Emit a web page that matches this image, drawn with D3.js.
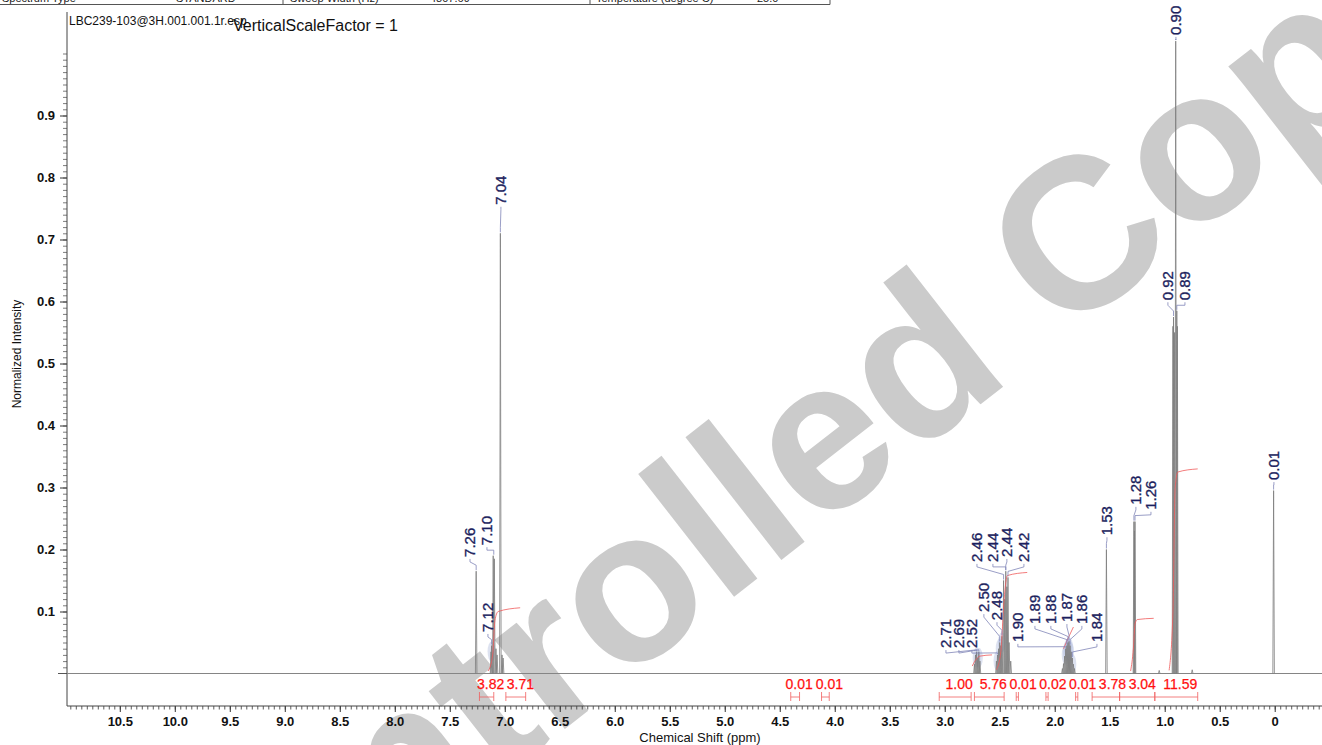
<!DOCTYPE html>
<html>
<head>
<meta charset="utf-8">
<script src="https://cdn.jsdelivr.net/npm/d3@7"></script>
<style>
  body { margin: 0; background: #fff; }
  svg text { font-family: "Liberation Sans", Arial, sans-serif; }
</style>
</head>
<body>
<div id="chart"></div>
<script>
// ---- data ----
// peak lines: [ppm, normalized intensity]
var peaks = [
  [7.26, 0.165],
  [7.125, 0.035], [7.12, 0.045], [7.105, 0.19], [7.095, 0.185], [7.08, 0.04], [7.07, 0.03],
  [7.04, 0.71], [7.025, 0.03], [7.015, 0.025],
  [2.73, 0.015], [2.72, 0.03], [2.71, 0.035], [2.70, 0.025], [2.69, 0.035], [2.68, 0.02],
  [2.53, 0.02], [2.52, 0.03], [2.51, 0.04], [2.50, 0.05], [2.49, 0.045], [2.48, 0.06],
  [2.465, 0.15], [2.455, 0.12], [2.445, 0.165], [2.435, 0.14], [2.425, 0.155], [2.415, 0.05], [2.40, 0.02],
  [1.93, 0.008], [1.92, 0.016], [1.91, 0.028], [1.90, 0.04], [1.89, 0.045], [1.88, 0.05],
  [1.87, 0.052], [1.86, 0.045], [1.85, 0.035], [1.84, 0.025], [1.83, 0.015], [1.82, 0.008],
  [1.53, 0.2],
  [1.28, 0.245], [1.275, 0.23], [1.27, 0.245],
  [1.05, 0.005],
  [0.925, 0.56], [0.92, 0.575], [0.91, 0.55], [0.90, 1.02], [0.89, 0.585], [0.885, 0.56],
  [0.75, 0.006],
  [0.01, 0.295]
];

// peak labels: [text, peak ppm, peak height]
var peakLabels = [
  ["7.26", 7.26, 0.165], ["7.10", 7.10, 0.19], ["7.12", 7.12, 0.045], ["7.04", 7.04, 0.71],
  ["2.71", 2.71, 0.035], ["2.69", 2.69, 0.035], ["2.52", 2.52, 0.03], ["2.50", 2.50, 0.05], ["2.48", 2.48, 0.06],
  ["2.46", 2.465, 0.15], ["2.44", 2.445, 0.165], ["2.44", 2.445, 0.165], ["2.42", 2.425, 0.155],
  ["1.90", 1.90, 0.04], ["1.89", 1.89, 0.045], ["1.88", 1.88, 0.05], ["1.87", 1.87, 0.052], ["1.86", 1.86, 0.045], ["1.84", 1.84, 0.025],
  ["1.53", 1.53, 0.2], ["1.28", 1.28, 0.245], ["1.26", 1.27, 0.245],
  ["0.92", 0.92, 0.575], ["0.90", 0.90, 1.02], ["0.89", 0.89, 0.585], ["0.01", 0.01, 0.295]
];
// where each label sits: [ppm, intensity of the label foot]
var labelSpots = [
  [7.316, 0.188], [7.162, 0.207], [7.153, 0.067], [7.035, 0.756],
  [2.989, 0.041], [2.871, 0.041], [2.753, 0.041], [2.644, 0.099], [2.525, 0.086],
  [2.707, 0.18], [2.562, 0.18], [2.435, 0.188], [2.28, 0.18],
  [2.335, 0.051], [2.18, 0.08], [2.035, 0.08], [1.889, 0.083], [1.753, 0.08], [1.616, 0.051],
  [1.525, 0.223], [1.262, 0.272], [1.125, 0.264],
  [0.971, 0.602], [0.898, 1.03], [0.816, 0.602], [0.007, 0.312]
];

// integrals: [from ppm, to ppm, value]
var integrals = [
  [7.23, 7.10, "3.82"], [6.99, 6.81, "3.71"], [4.40, 4.32, "0.01"], [4.12, 4.05, "0.01"],
  [3.05, 2.76, "1.00"], [2.73, 2.46, "5.76"], [2.35, 2.33, "0.01"], [2.08, 2.06, "0.02"],
  [1.81, 1.79, "0.01"], [1.66, 1.41, "3.78"], [1.41, 1.09, "3.04"], [1.09, 0.70, "11.59"]
];
// integral curves drawn in the plot: [ppm, intensity]
var integralCurves = [
  [[7.15, 0.004], [7.11, 0.03], [7.09, 0.085], [7.06, 0.1], [6.86, 0.106]],
  [[2.75, 0.012], [2.71, 0.024], [2.68, 0.028], [2.57, 0.03]],
  [[2.53, 0.006], [2.49, 0.035], [2.46, 0.12], [2.43, 0.158], [2.25, 0.163]],
  [[1.92, 0.04], [1.87, 0.06], [1.83, 0.075]],
  [[1.31, 0.004], [1.285, 0.04], [1.27, 0.08], [1.25, 0.087], [1.10, 0.089]],
  [[0.96, 0.005], [0.925, 0.1], [0.905, 0.3], [0.88, 0.325], [0.70, 0.33]]
];

var xTickValues = [10.5, 10.0, 9.5, 9.0, 8.5, 8.0, 7.5, 7.0, 6.5, 6.0, 5.5, 5.0, 4.5, 4.0, 3.5, 3.0, 2.5, 2.0, 1.5, 1.0, 0.5, 0];
var xTickLabels = ["10.5", "10.0", "9.5", "9.0", "8.5", "8.0", "7.5", "7.0", "6.5", "6.0", "5.5", "5.0", "4.5", "4.0", "3.5", "3.0", "2.5", "2.0", "1.5", "1.0", "0.5", "0"];
var yTickValues = [0.1, 0.2, 0.3, 0.4, 0.5, 0.6, 0.7, 0.8, 0.9];

// ---- layout ----
var width = 1322, height = 745;
var svg = d3.select("#chart").append("svg")
  .attr("width", width)
  .attr("height", height);

var x = d3.scaleLinear().domain([10.98, -0.43]).range([67, 1322]);
var y = d3.scaleLinear().domain([0, 1]).range([673.5, 53.5]);
var axisY = 706;

// watermark
svg.append("text")
  .attr("transform", "translate(826,525) rotate(-38)")
  .attr("text-anchor", "middle")
  .style("font-size", "215px")
  .style("font-weight", "bold")
  .attr("fill", "#cbcbcb")
  .text("Controlled Copy");

// header table cut at the top
var header = svg.append("g").attr("class", "header");
header.append("line").attr("x1", 0).attr("x2", 830).attr("y1", 4.5).attr("y2", 4.5)
  .attr("stroke", "#555").attr("stroke-width", 1);
[283, 590, 830].forEach(function (xx) {
  header.append("line").attr("x1", xx).attr("x2", xx).attr("y1", 0).attr("y2", 4.5)
    .attr("stroke", "#555");
});
[["Spectrum Type", 2], ["STANDARD", 176], ["Sweep Width (Hz)", 290], ["4807.69", 430],
 ["Temperature (degree C)", 596], ["25.0", 757]].forEach(function (t) {
  header.append("text").attr("x", t[1]).attr("y", 2).style("font-size", "11px")
    .attr("fill", "#222").text(t[0]);
});

svg.append("text").attr("x", 69).attr("y", 25).style("font-size", "12px")
  .attr("fill", "#111").text("LBC239-103@3H.001.001.1r.esp");
svg.append("text").attr("x", 233).attr("y", 31).style("font-size", "16px")
  .attr("fill", "#111").text("VerticalScaleFactor = 1");

// ---- axes ----
// x minor ticks
svg.append("g")
  .attr("transform", "translate(0," + axisY + ")")
  .call(d3.axisBottom(x).tickValues(d3.range(-8, 220).map(function (i) { return i * 0.05; })
      .filter(function (v) { return v <= 10.98 && v >= -0.43; }))
    .tickSize(3.5).tickFormat(""))
  .call(function (g) { g.select(".domain").remove(); })
  .selectAll("line").attr("stroke", "#333").attr("stroke-width", 0.8);

var xAxis = svg.append("g")
  .attr("transform", "translate(0," + axisY + ")")
  .call(d3.axisBottom(x).tickValues(xTickValues).tickSize(6).tickPadding(5)
    .tickFormat(function (d, i) { return xTickLabels[i]; }));
xAxis.select(".domain").remove();
xAxis.selectAll("line").attr("stroke", "#333");
xAxis.selectAll("text").style("font-size", "13px").style("font-weight", "bold").attr("fill", "#111");

svg.append("line").attr("x1", 67).attr("x2", 1322).attr("y1", axisY).attr("y2", axisY)
  .attr("stroke", "#444").attr("stroke-width", 1);

svg.append("text").attr("x", 700).attr("y", 742).attr("text-anchor", "middle")
  .style("font-size", "13px").attr("fill", "#111").text("Chemical Shift (ppm)");

// y minor ticks
svg.append("g")
  .attr("transform", "translate(67,0)")
  .call(d3.axisLeft(y).tickValues(d3.range(1, 101).map(function (i) { return i / 100; }))
    .tickSize(4).tickFormat(""))
  .call(function (g) { g.select(".domain").remove(); })
  .selectAll("line").attr("stroke", "#444").attr("stroke-width", 0.7);

var yAxis = svg.append("g")
  .attr("transform", "translate(67,0)")
  .call(d3.axisLeft(y).tickValues(yTickValues).tickSize(7).tickPadding(5)
    .tickFormat(d3.format(".1f")));
yAxis.select(".domain").remove();
yAxis.selectAll("line").attr("stroke", "#333");
yAxis.selectAll("text").style("font-size", "13px").style("font-weight", "bold").attr("fill", "#111");

svg.append("line").attr("x1", 58).attr("x2", 67).attr("y1", y(0)).attr("y2", y(0))
  .attr("stroke", "#555");
svg.append("line").attr("x1", 67).attr("x2", 67).attr("y1", 12).attr("y2", axisY)
  .attr("stroke", "#444").attr("stroke-width", 1);

svg.append("text")
  .attr("transform", "translate(21,354) rotate(-90)")
  .attr("text-anchor", "middle")
  .style("font-size", "12px").attr("fill", "#111")
  .text("Normalized Intensity");

// ---- spectrum ----
var line = d3.line().x(function (d) { return x(d[0]); }).y(function (d) { return y(d[1]); });

// peak-picking halos on the small multiplets
svg.append("g").selectAll("ellipse")
  .data(peakLabels.filter(function (d) { return d[2] < 0.07; }))
  .join("ellipse")
  .attr("cx", function (d) { return x(d[1]); })
  .attr("cy", function (d) { return y(d[2]) + 6; })
  .attr("rx", 4).attr("ry", 10)
  .attr("fill", "#b4bedd").attr("opacity", 0.45);

svg.append("path")
  .datum([[10.98, 0], [-0.43, 0]])
  .attr("d", line).attr("fill", "none").attr("stroke", "#858585").attr("stroke-width", 1.1);

svg.append("g").selectAll("path")
  .data(peaks)
  .join("path")
  .attr("d", function (d) { return line([[d[0] + 0.007, 0], [d[0], d[1]], [d[0] - 0.007, 0]]); })
  .attr("fill", "none")
  .attr("stroke", "#7c7c7c")
  .attr("stroke-width", 0.8);

// integral curves
svg.append("g").selectAll("path")
  .data(integralCurves)
  .join("path")
  .attr("d", d3.line().curve(d3.curveMonotoneX).x(function (d) { return x(d[0]); }).y(function (d) { return y(d[1]); }))
  .attr("fill", "none").attr("stroke", "#f05a5a").attr("stroke-width", 0.8);

// integral brackets and values
var ig = svg.append("g").attr("class", "integrals");
integrals.forEach(function (d) {
  var x1 = x(d[0]), x2 = x(d[1]);
  ig.append("path")
    .attr("d", "M" + x1 + ",692V701M" + x1 + ",697H" + x2 + "M" + x2 + ",692V701")
    .attr("fill", "none").attr("stroke", "#f06060").attr("stroke-width", 0.8);
});
var lastRight = -1e9;
integrals.forEach(function (d) {
  var cx = (x(d[0]) + x(d[1])) / 2 + 4;
  var w = d[2].length * 7.2;
  if (cx - w / 2 < lastRight + 1) cx = lastRight + 1 + w / 2;
  lastRight = cx + w / 2;
  ig.append("text").attr("x", cx).attr("y", 689).attr("text-anchor", "middle")
    .style("font-size", "14px").attr("fill", "#ff1010")
    .attr("stroke", "#ff1010").attr("stroke-width", 0.25).text(d[2]);
});

// peak labels with leaders
var pl = svg.append("g").attr("class", "peak-labels");
peakLabels.forEach(function (d, i) {
  var lx = x(labelSpots[i][0]), ly = y(labelSpots[i][1]);
  var px = x(d[1]), py = y(d[2]);
  pl.append("path")
    .attr("d", "M" + lx + "," + (ly + 2) + "L" + lx + "," + (ly + 5) +
      "L" + px + "," + Math.min(py - 2, Math.max(ly + 5, py - 6)) + "L" + px + "," + (py - 1))
    .attr("fill", "none").attr("stroke", "#8085b8").attr("stroke-width", 0.8);
  pl.append("text")
    .attr("transform", "translate(" + lx + "," + ly + ") rotate(-90)")
    .attr("dy", "0.35em")
    .style("font-size", "15px")
    .attr("fill", "#1c1f5e")
    .attr("stroke", "#1c1f5e").attr("stroke-width", 0.35)
    .text(d[0]);
});
</script>
</body>
</html>
